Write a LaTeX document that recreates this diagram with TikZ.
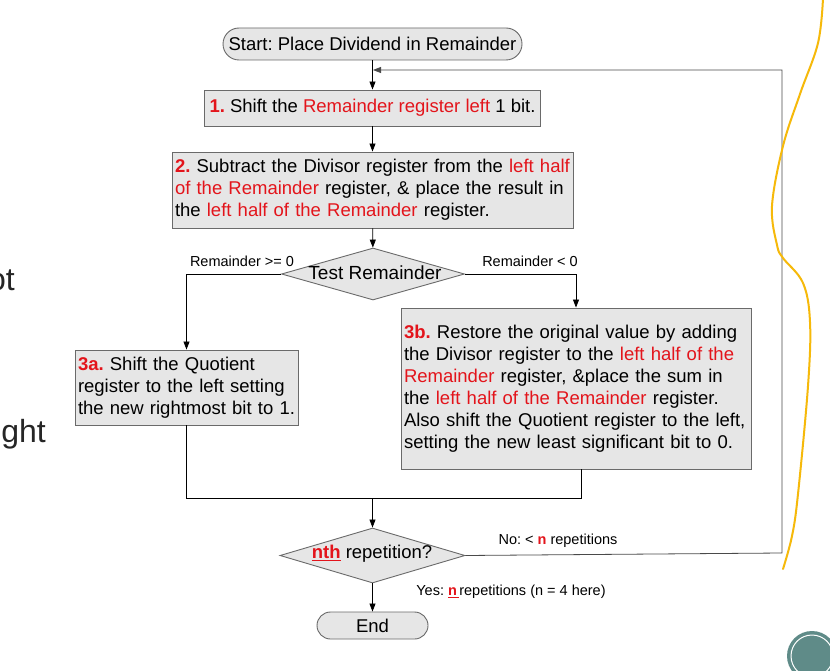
\documentclass[tikz,border=0pt]{standalone}
\usepackage{fontspec}
\setmainfont{Liberation Sans}
\usetikzlibrary{arrows.meta,shapes.geometric}
\definecolor{myred}{HTML}{E3141B}
\definecolor{boxfill}{HTML}{E6E6E6}
\definecolor{boxline}{HTML}{6A6A6A}
\definecolor{slidegray}{HTML}{262626}
\definecolor{penyellow}{HTML}{F6B90A}
\definecolor{tealgray}{HTML}{5F8B88}
\definecolor{loopgray}{HTML}{4A4A4A}
\newcommand{\rt}[1]{\textcolor{myred}{#1}}
\newcommand{\rbf}[1]{\textcolor{myred}{\bfseries #1}}
\newcommand{\rul}[1]{\textcolor{myred}{\bfseries\underline{#1}}}
\frenchspacing
\begin{document}
\begin{tikzpicture}[x=1pt,y=-1pt,
  boxtext/.style={font=\fontsize{18.5}{22}\selectfont},
  procbox/.style={draw=boxline, fill=boxfill, line width=0.9pt, rectangle, inner sep=3pt, boxtext},
  pill/.style={draw=boxline, fill=boxfill, line width=0.9pt, rectangle, inner sep=0pt, boxtext},
  decision/.style={draw=boxline, fill=boxfill, line width=0.9pt, diamond, inner sep=0pt},
  smalllabel/.style={font=\fontsize{14.5}{17}\selectfont, inner sep=0pt},
  conn/.style={draw=black, line width=0.8pt},
  arrowconn/.style={conn, -{Triangle[length=8pt,width=6pt]}},
  slidetext/.style={font=\fontsize{32}{36}\selectfont, text=slidegray, inner sep=0pt}
]
\useasboundingbox (0,0) rectangle (830,671);
\fill[white] (0,0) rectangle (830,671);

% partial slide text on the left
\node[slidetext, anchor=base east] (s1) at (15,290) {ot};
\node[slidetext, anchor=base east] (s2) at (46,442) {ght};

% nodes
\node[pill, minimum width=299pt, minimum height=32pt, rounded corners=16pt] (start) at (372.5,44) {Start: Place Dividend in Remainder};
\node[procbox, minimum width=336pt, minimum height=36pt] (b1) at (372.5,108) {\rbf{1.} Shift the \rt{Remainder register left} 1 bit.};
\node[procbox, minimum width=401pt, minimum height=76pt, text width=395pt, align=left] (b2) at (372.5,190)
  {\rbf{2.} Subtract the Divisor register from the \rt{left half}\\\rt{of the Remainder} register, \& place the result in\\the \rt{left half of the Remainder} register.};
\node[decision, minimum width=183pt, minimum height=52pt] (d1) at (373,274) {};
\node[font=\fontsize{19}{22}\selectfont, inner sep=0pt] (d1t) at (375,273) {Test Remainder};
\node[procbox, minimum width=223pt, minimum height=75pt, text width=217pt, align=left] (b3a) at (186.5,387.5)
  {\rbf{3a.} Shift the Quotient\\register to the left setting\\the new rightmost bit to 1.};
\node[procbox, minimum width=350pt, minimum height=161pt, text width=344pt, align=left] (b3b) at (576,388.5)
  {\rbf{3b.} Restore the original value by adding\\the Divisor register to the \rt{left half of the}\\\rt{Remainder} register, \&place the sum in\\the \rt{left half of the Remainder} register.\\Also shift the Quotient register to the left,\\setting the new least significant bit to 0.};
\node[decision, minimum width=185pt, minimum height=55pt] (d2) at (372.5,555.5) {};
\node[font=\fontsize{18.5}{22}\selectfont, inner sep=0pt] (d2t) at (372,554) {\rul{nth} repetition?};
\node[pill, minimum width=111pt, minimum height=27pt, rounded corners=13.5pt] (end) at (372.5,625.5) {End};

% labels
\node[smalllabel] (l1) at (242,261) {Remainder >= 0};
\node[smalllabel] (l2) at (530,261) {Remainder < 0};
\node[smalllabel] (l3) at (558,541) {No: < \rbf{n} repetitions};
\node[smalllabel] (l4) at (511,592) {Yes: \rul{n\,}repetitions (n = 4 here)};

% helper coordinates
\coordinate (lr) at (782,553);
\coordinate (lt) at (782,70);
\coordinate (jn) at (373,70);
\coordinate (m1) at (186.5,498);
\coordinate (m2) at (581,498);
\coordinate (m0) at (372.5,498);

% connectors
\draw[arrowconn] (start) -- (b1);
\draw[arrowconn] (b1) -- (b2);
\draw[arrowconn] (b2) -- (d1);
\draw[arrowconn] (d1.west) -| (b3a.north);
\draw[arrowconn] (d1.east) -| (b3b.north);
\draw[conn] (b3a.south) -- (m1) -- (m2) -- (m2 |- b3b.south);
\draw[arrowconn] (m0) -- (d2.north);
\draw[arrowconn] (d2.south) -- (end);
\draw[arrowconn, draw=loopgray] (d2.east) -- (lr) -- (lt) -- (jn);

% yellow pen stroke
\draw[penyellow, line width=2pt, line cap=round] plot[smooth, tension=0.6] coordinates {
 (823,-2) (818,43) (800,94) (783,146) (772,206) (777,245) (783,258) (803,283) (810,322) (808,386) (798,494) (792,536) (783,569)};

% decorative circle bottom right
\fill[tealgray] (812,656) circle (25);
\draw[white, line width=1pt] (812,656) circle (21);
\end{tikzpicture}
\end{document}
